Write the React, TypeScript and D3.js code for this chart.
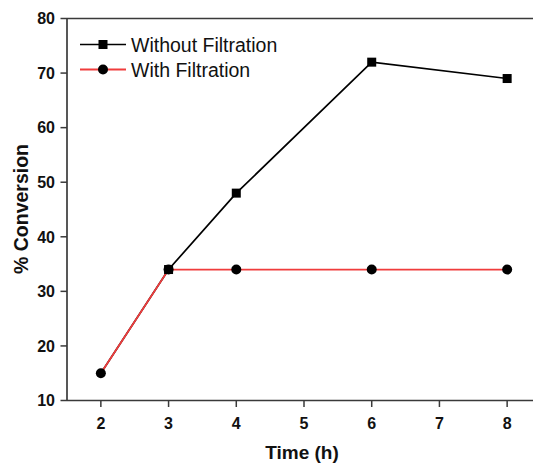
import React from "react";
import * as d3 from "d3";

const times = [2, 3, 4, 6, 8];
const withoutFiltration = [15, 34, 48, 72, 69];
const withFiltration = [15, 34, 34, 34, 34];
const xTicks = [2, 3, 4, 5, 6, 7, 8];
const yTicks = [10, 20, 30, 40, 50, 60, 70, 80];
const seriesNames = ["Without Filtration", "With Filtration"];

const W = 533;
const H = 464;
const FONT = "'Liberation Sans', Arial, Helvetica, sans-serif";
const RED = "#f03c3c";
const AXIS = "#3a3a3a";

export default function App() {
  const x = d3.scaleLinear().domain([1.5, 8.5]).range([67, 541]);
  const y = d3.scaleLinear().domain([10, 80]).range([400.5, 18.5]);
  const line = d3
    .line<[number, number]>()
    .x((d) => x(d[0]))
    .y((d) => y(d[1]));
  const blackPts: [number, number][] = times.map((t, i) => [t, withoutFiltration[i]]);
  const redPts: [number, number][] = times.map((t, i) => [t, withFiltration[i]]);
  const sq = 9;
  const r = 5;

  return (
    <svg
      width={W}
      height={H}
      style={{ position: "absolute", left: 0, top: 0, background: "#fff" }}
      fontFamily={FONT}
    >
      <rect width={W} height={H} fill="#fff" />
      {/* frame */}
      <line x1={x(1.5)} x2={W} y1={y(80)} y2={y(80)} stroke={AXIS} strokeWidth={1.7} />
      <line x1={x(1.5)} x2={W} y1={y(10)} y2={y(10)} stroke={AXIS} strokeWidth={1.7} />
      <line x1={x(1.5)} x2={x(1.5)} y1={y(80)} y2={y(10)} stroke={AXIS} strokeWidth={1.7} />
      {/* x ticks */}
      {xTicks.map((t) => (
        <g key={"x" + t}>
          <line x1={x(t)} x2={x(t)} y1={y(10)} y2={y(10) + 6.5} stroke={AXIS} strokeWidth={1.5} />
          <text
            x={x(t)}
            y={429}
            textAnchor="middle"
            fontSize={16}
            fontWeight="bold"
            fill="#111"
          >
            {t}
          </text>
        </g>
      ))}
      {/* y ticks */}
      {yTicks.map((v) => (
        <g key={"y" + v}>
          <line x1={x(1.5) - 6.5} x2={x(1.5)} y1={y(v)} y2={y(v)} stroke={AXIS} strokeWidth={1.5} />
          <text
            x={55}
            y={y(v)}
            dy="0.36em"
            textAnchor="end"
            fontSize={16}
            fontWeight="bold"
            fill="#111"
          >
            {v}
          </text>
        </g>
      ))}
      {/* axis titles */}
      <text x={302} y={459} textAnchor="middle" fontSize={19} fontWeight="bold" fill="#111">
        Time (h)
      </text>
      <text
        transform={`translate(28,209) rotate(-90)`}
        textAnchor="middle"
        fontSize={19.5}
        fontWeight="bold"
        fill="#111"
      >
        % Conversion
      </text>
      {/* series */}
      <path d={line(blackPts) || ""} fill="none" stroke="#000" strokeWidth={1.7} />
      <path d={line(redPts) || ""} fill="none" stroke={RED} strokeWidth={1.8} />
      {redPts.map((p, i) => (
        <circle key={"c" + i} cx={x(p[0])} cy={y(p[1])} r={r} fill="#000" />
      ))}
      {blackPts.map((p, i) =>
        i === 0 ? null : (
          <rect
            key={"s" + i}
            x={x(p[0]) - sq / 2}
            y={y(p[1]) - sq / 2}
            width={sq}
            height={sq}
            fill="#000"
          />
        )
      )}
      {/* legend */}
      <g>
        <line x1={80} x2={126} y1={44.5} y2={44.5} stroke="#000" strokeWidth={1.7} />
        <rect x={103 - sq / 2} y={44.5 - sq / 2} width={sq} height={sq} fill="#000" />
        <text x={131} y={51.5} fontSize={19.5} fill="#111">
          {seriesNames[0]}
        </text>
        <line x1={80} x2={126} y1={69.5} y2={69.5} stroke={RED} strokeWidth={1.8} />
        <circle cx={103} cy={69.5} r={r} fill="#000" />
        <text x={131} y={76.5} fontSize={19.5} fill="#111">
          {seriesNames[1]}
        </text>
      </g>
    </svg>
  );
}
